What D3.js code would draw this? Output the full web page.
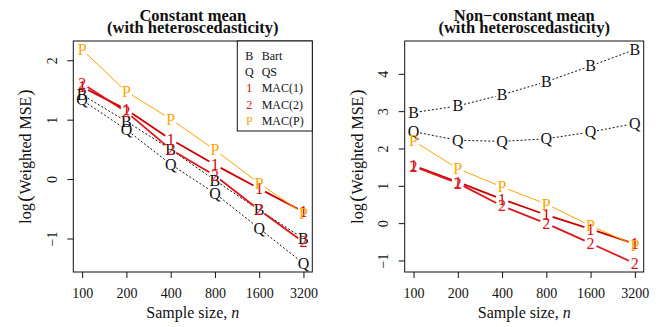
<!DOCTYPE html>
<html>
<head>
<meta charset="utf-8"/>
<script src="https://cdn.jsdelivr.net/npm/d3@7"></script>
<title>Weighted MSE by sample size</title>
<style>
body { margin: 0; background: #fff; }
svg { display: block; }
text { font-family: "Liberation Serif", "Times New Roman", serif; fill: #111; }
.title { font-weight: bold; font-size: 16.5px; }
.tick text { font-size: 14px; }
.lab { font-size: 16px; }
.pt { font-size: 16px; }
.leg { font-size: 12px; }
</style>
</head>
<body>
<svg width="665" height="327"></svg>
<script>
// sample sizes on the x axis
var sizes = [100, 200, 400, 800, 1600, 3200];

// log(weighted MSE), constant mean panel
var bartConst = [1.42, 0.97, 0.50, -0.02, -0.52, -1.00];
var qsConst   = [1.33, 0.83, 0.25, -0.24, -0.83, -1.42];
var mac1Const = [1.55, 1.17, 0.67, 0.24, -0.16, -0.55];
var mac2Const = [1.61, 1.13, 0.50, 0.06, -0.52, -1.06];
var macPConst = [2.18, 1.47, 1.01, 0.49, -0.07, -0.58];

// log(weighted MSE), non-constant mean panel
var bartNon = [2.96, 3.14, 3.44, 3.79, 4.21, 4.65];
var qsNon   = [2.45, 2.22, 2.19, 2.26, 2.44, 2.67];
var mac1Non = [1.54, 1.10, 0.64, 0.22, -0.16, -0.56];
var mac2Non = [1.52, 1.07, 0.46, -0.01, -0.54, -1.08];
var macPNon = [2.20, 1.46, 0.97, 0.51, -0.07, -0.59];

var yTicksConst = [-1, 0, 1, 2];
var yTicksNon = [-1, 0, 1, 2, 3, 4];

var methods = [
  {pch: "B", name: "Bart",   color: "#111", width: 1, dash: "2,2"},
  {pch: "Q", name: "QS",     color: "#111", width: 1, dash: "2,2"},
  {pch: "1", name: "MAC(1)", color: "#cc0000", width: 1.8, dash: null},
  {pch: "2", name: "MAC(2)", color: "#e0141c", width: 1.8, dash: null},
  {pch: "P", name: "MAC(P)", color: "#ffa500", width: 1, dash: null}
];

var svg = d3.select("svg");

function panel(left, titleLines, series, yTicks, legend) {
  var top = 41, w = 239, h = 231;
  var g = svg.append("g").attr("transform", "translate(" + left + "," + top + ")");

  var x = d3.scaleLog().base(2)
      .domain([sizes[0] * Math.pow(2, -0.2), sizes[sizes.length - 1] * Math.pow(2, 0.2)])
      .range([0, w]);

  // R style: data range padded by 4% each side
  var all = d3.merge(series);
  var lo = d3.min(all), hi = d3.max(all), pad = (hi - lo) * 0.04;
  var y = d3.scaleLinear().domain([lo - pad, hi + pad]).range([h, 0]);

  // axes
  var xa = g.append("g").attr("transform", "translate(0," + h + ")")
      .call(d3.axisBottom(x).tickValues(sizes).tickFormat(d3.format("d")).tickSize(6));
  xa.select(".domain").remove();
  xa.selectAll(".tick text").attr("y", 26.3).attr("dy", null);

  var ya = g.append("g")
      .call(d3.axisLeft(y).tickValues(yTicks).tickSize(6)
        .tickFormat(function(d) { return d < 0 ? "\u2212" + (-d) : d; }));
  ya.select(".domain").remove();
  ya.selectAll(".tick text")
      .attr("x", null).attr("dy", null)
      .attr("text-anchor", "middle")
      .attr("transform", "translate(-16.7,0) rotate(-90)");
  g.selectAll(".tick line").attr("stroke", "#111");

  // lines with gaps around the symbols (type = "b")
  var gap = 6.5;
  series.forEach(function(vals, k) {
    var m = methods[k];
    var pts = vals.map(function(v, i) { return [x(sizes[i]), y(v)]; });
    var segs = d3.pairs(pts).map(function(p) {
      var dx = p[1][0] - p[0][0], dy = p[1][1] - p[0][1];
      var len = Math.sqrt(dx * dx + dy * dy);
      var ux = dx / len, uy = dy / len;
      return [[p[0][0] + ux * gap, p[0][1] + uy * gap], [p[1][0] - ux * gap, p[1][1] - uy * gap]];
    });
    g.selectAll(null).data(segs).enter().append("line")
        .attr("x1", function(s) { return s[0][0]; })
        .attr("y1", function(s) { return s[0][1]; })
        .attr("x2", function(s) { return s[1][0]; })
        .attr("y2", function(s) { return s[1][1]; })
        .attr("stroke", m.color)
        .attr("stroke-width", m.width)
        .attr("stroke-dasharray", m.dash);
    g.selectAll(null).data(vals).enter().append("text")
        .attr("class", "pt")
        .attr("x", function(v, i) { return x(sizes[i]); })
        .attr("y", function(v) { return y(v); })
        .attr("dy", "0.34em")
        .attr("text-anchor", "middle")
        .style("fill", m.color)
        .text(m.pch);
  });

  // box
  g.append("rect").attr("width", w).attr("height", h)
      .attr("fill", "none").attr("stroke", "#111").attr("stroke-width", 1);

  // titles
  g.selectAll(null).data(titleLines).enter().append("text")
      .attr("class", "title")
      .attr("x", w / 2)
      .attr("y", function(d, i) { return -20 + i * 12.3; })
      .attr("text-anchor", "middle")
      .text(function(d) { return d; });

  var xl = g.append("text").attr("class", "lab")
      .attr("x", w / 2).attr("y", h + 46.3).attr("text-anchor", "middle");
  xl.append("tspan").text("Sample size, ");
  xl.append("tspan").style("font-style", "italic").text("n");

  var yl = g.append("text").attr("class", "lab")
      .attr("transform", "translate(-42," + (h / 2) + ") rotate(-90)")
      .attr("text-anchor", "middle");
  yl.append("tspan").text("log");
  yl.append("tspan").attr("dx", 1.5).style("font-size", "19px").text("(");
  yl.append("tspan").attr("dx", 1).text("Weighted MSE");
  yl.append("tspan").attr("dx", 1).style("font-size", "19px").text(")");

  if (legend) {
    var lw = 75, lh = 90;
    var lg = g.append("g").attr("transform", "translate(" + (w - lw) + ",0)");
    lg.append("rect").attr("width", lw).attr("height", lh)
        .attr("fill", "#fff").attr("stroke", "#111").attr("stroke-width", 1);
    var rows = lg.selectAll(null).data(methods).enter().append("g")
        .attr("transform", function(d, i) { return "translate(0," + (14.7 + i * 16.3) + ")"; });
    rows.append("text").attr("class", "leg")
        .attr("x", 12).attr("dy", "0.34em").attr("text-anchor", "middle")
        .style("fill", function(d) { return d.color; })
        .text(function(d) { return d.pch; });
    rows.append("text").attr("class", "leg")
        .attr("x", 24.4).attr("dy", "0.34em")
        .text(function(d) { return d.name; });
  }
}

panel(73.3, ["Constant mean", "(with heteroscedasticity)"],
  [bartConst, qsConst, mac1Const, mac2Const, macPConst], yTicksConst, true);
panel(404.7, ["Non\u2212constant mean", "(with heteroscedasticity)"],
  [bartNon, qsNon, mac1Non, mac2Non, macPNon], yTicksNon, false);
</script>
</body>
</html>
